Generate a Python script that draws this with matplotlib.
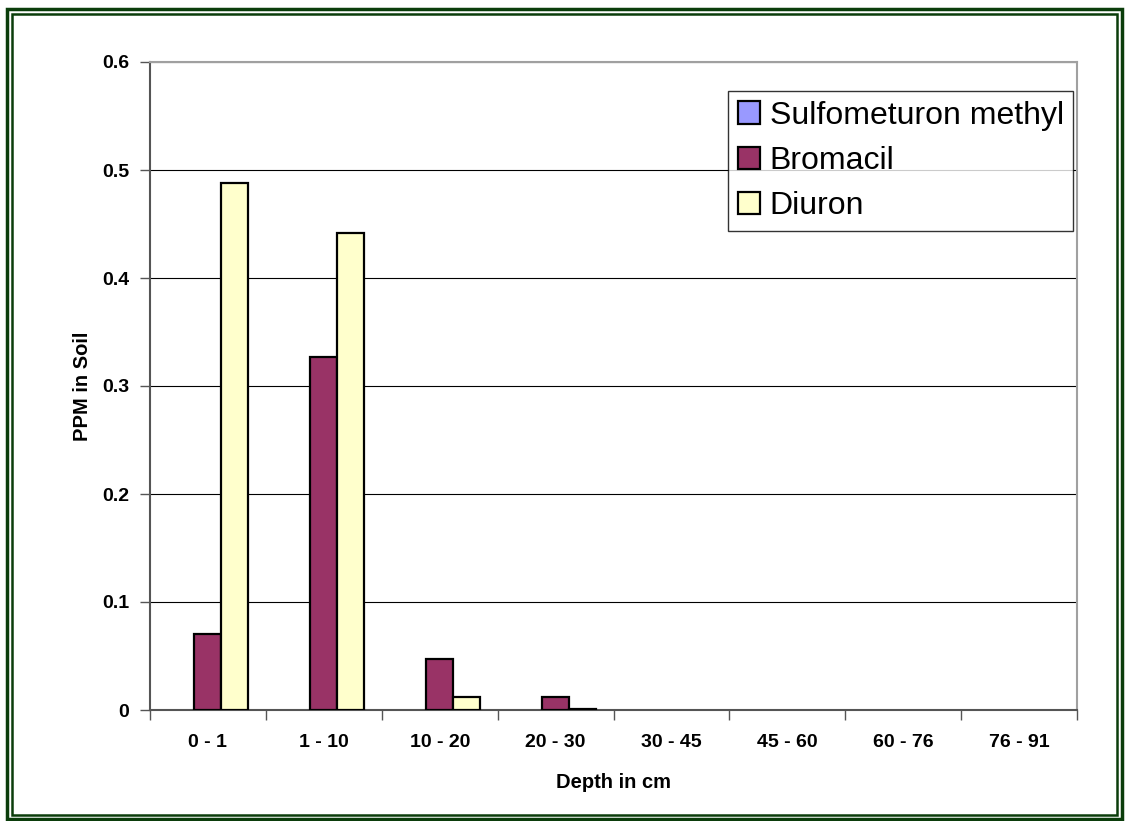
import numpy as np
import matplotlib
matplotlib.use("Agg")
import matplotlib.pyplot as plt
from matplotlib.patches import Rectangle, Patch

plt.rcParams["font.family"] = ["Liberation Sans", "DejaVu Sans"]

depths = ["0 - 1", "1 - 10", "10 - 20", "20 - 30", "30 - 45", "45 - 60", "60 - 76", "76 - 91"]
sulfometuron = [0, 0, 0, 0, 0, 0, 0, 0]
bromacil = [0.070, 0.327, 0.047, 0.012, 0, 0, 0, 0]
diuron = [0.488, 0.442, 0.012, 0.001, 0, 0, 0, 0]
series_names = ["Sulfometuron methyl", "Bromacil", "Diuron"]
colors = ["#9999FF", "#993366", "#FFFFCC"]

W, H = 1125, 821
fig = plt.figure(figsize=(W / 100, H / 100), dpi=100)
ax = fig.add_axes([150 / W, 1 - 710 / H, (1077 - 150) / W, (710 - 62) / H])

x = np.arange(len(depths))
bw = 0.233
for k, (vals, name, c) in enumerate(zip([sulfometuron, bromacil, diuron], series_names, colors)):
    bars = ax.bar(x + (k - 1) * bw, vals, bw, color=c, edgecolor="black", linewidth=1.6,
                  zorder=3)
    # empty cells get no outline
    for b, v in zip(bars, vals):
        if v == 0:
            b.set_linewidth(0)

ax.set_xlim(-0.5, len(depths) - 0.5)
ax.set_ylim(0, 0.6)
ax.set_yticks(np.arange(0, 0.61, 0.1))
ax.set_yticklabels(["0", "0.1", "0.2", "0.3", "0.4", "0.5", "0.6"],
                   fontsize=14, fontweight="bold")
ax.yaxis.grid(True, color="#000000", linewidth=0.8, zorder=0)

# category labels centred, tick marks on the category boundaries
ax.set_xticks(x)
ax.set_xticklabels(depths, fontsize=14, fontweight="bold")
ax.tick_params(axis="x", which="major", length=0, pad=17)
ax.set_xticks(np.arange(-0.5, len(depths)), minor=True)
ax.tick_params(axis="x", which="minor", length=7, width=1, color="#555555")
ax.tick_params(axis="y", length=7, width=1, color="#555555", pad=8)

for s in ("top", "right"):
    ax.spines[s].set_color("#a0a0a0")
    ax.spines[s].set_linewidth(1.5)
ax.spines["left"].set_color("#555555")
ax.spines["left"].set_linewidth(1.5)
ax.spines["bottom"].set_color("#555555")
ax.spines["bottom"].set_linewidth(1.5)

ax.set_ylabel("PPM in Soil", fontsize=14.5, fontweight="bold", labelpad=7)
ax.set_xlabel("Depth in cm", fontsize=14.5, fontweight="bold", labelpad=16)

handles = [Patch(facecolor=c, edgecolor="black", linewidth=1.6) for c in colors]
leg = ax.legend(handles, series_names, loc="upper left",
                bbox_to_anchor=(728 / W, 1 - 91 / H),
                bbox_transform=fig.transFigure, fontsize=23, frameon=True,
                fancybox=False, edgecolor="#000000", handlelength=0.7,
                handleheight=0.7, handletextpad=0.3, labelspacing=0.48,
                borderpad=0.3, borderaxespad=0)
leg.get_frame().set_linewidth(1.0)

# double dark green frame around the whole figure
fig.patches.append(Rectangle((7 / W, 1 - 819 / H), (1122 - 7) / W, (819 - 9) / H,
                             transform=fig.transFigure, fill=False,
                             edgecolor="#0b3d0b", linewidth=2.5))
fig.patches.append(Rectangle((12 / W, 1 - 815 / H), (1117 - 12) / W, (815 - 14) / H,
                             transform=fig.transFigure, fill=False,
                             edgecolor="#0b3d0b", linewidth=1.8))

fig.savefig("out.png", dpi=100)
